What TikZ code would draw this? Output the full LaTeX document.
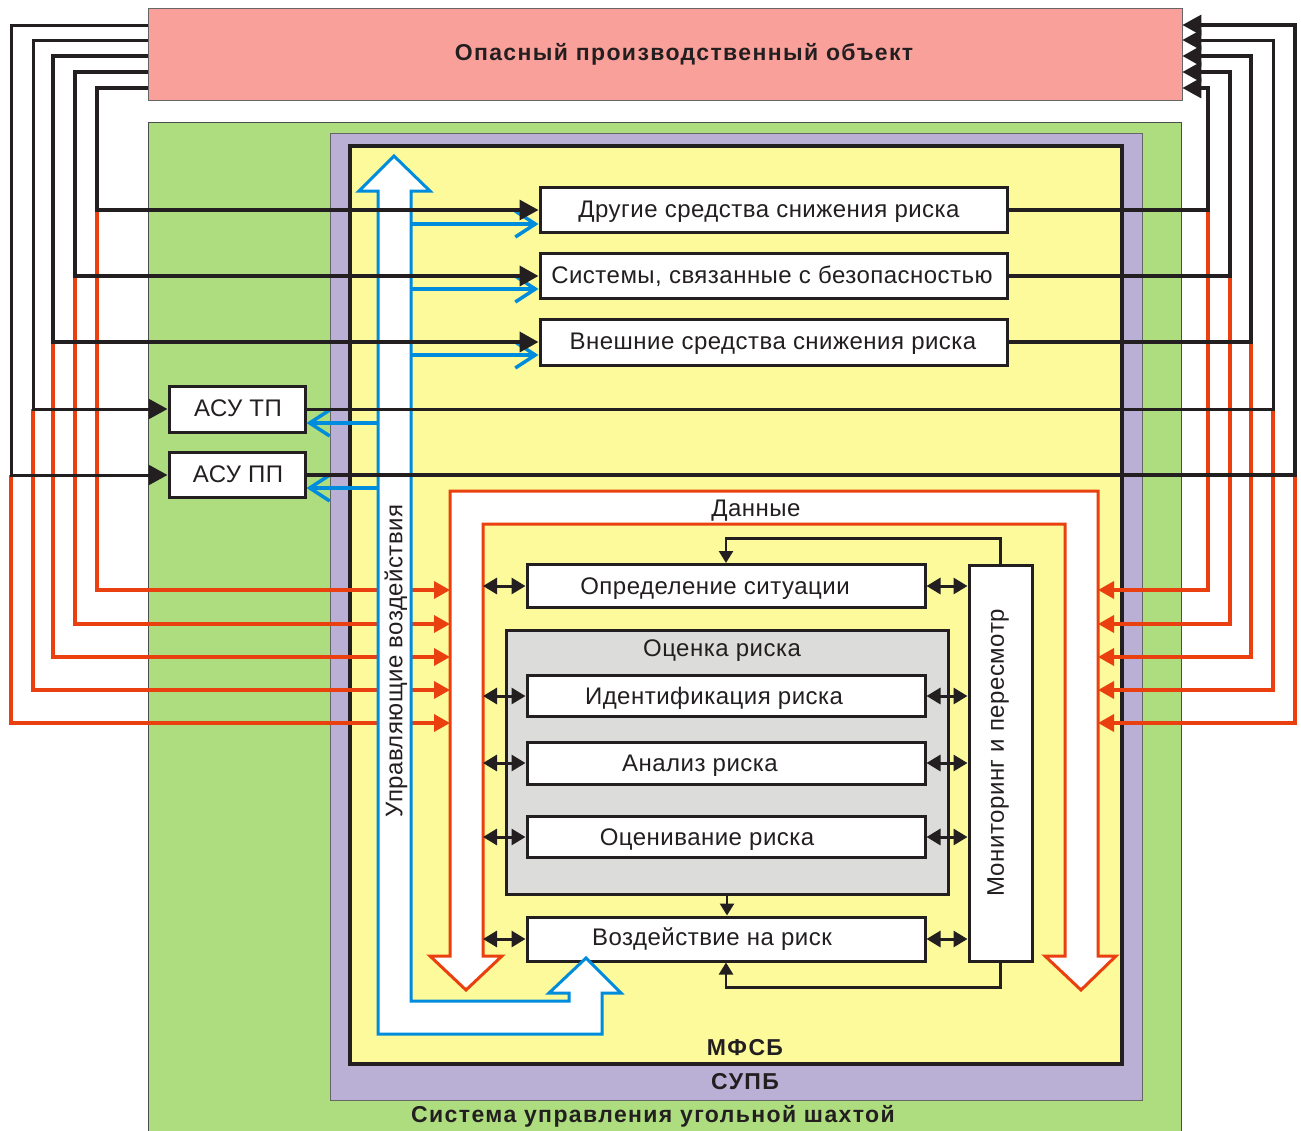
\documentclass[tikz,border=0pt]{standalone}
\usepackage{fontspec}
\setmainfont{Liberation Sans}[LetterSpace=2]
\newfontfamily\headfont{Liberation Sans}[LetterSpace=6]
\usetikzlibrary{arrows.meta}

\definecolor{pinkfill}{RGB}{249,160,155}
\definecolor{greenfill}{RGB}{174,221,128}
\definecolor{purplefill}{RGB}{186,176,214}
\definecolor{yellowfill}{RGB}{252,250,155}
\definecolor{grayfill}{RGB}{220,220,218}
\definecolor{ink}{RGB}{35,31,32}
\definecolor{redline}{RGB}{234,64,16}
\definecolor{blueline}{RGB}{0,140,220}

\tikzset{
  txt/.style={font=\fontsize{24}{28}\selectfont, text=ink, anchor=base, inner sep=0pt},
  headtxt/.style={font=\headfont\bfseries\fontsize{23}{27}\selectfont, text=ink, anchor=base, inner sep=0pt},
  box/.style={draw=ink, line width=3pt, fill=white, inner sep=0pt},
  blk/.style={draw=ink, line width=3.2pt, line join=miter},
  blkarrow/.style={blk, -{Triangle[length=19pt,width=20pt]}},
  redl/.style={draw=redline, line width=3.5pt, line join=miter, -{Triangle[length=16pt,width=17pt]}},
  bluel/.style={draw=blueline, line width=3.5pt, -{Straight Barb[length=20pt,width=26pt]}},
  dbl/.style={draw=ink, line width=3pt, {Triangle[length=14pt,width=16pt]}-{Triangle[length=14pt,width=16pt]}},
  fb/.style={draw=ink, line width=2.5pt, -{Triangle[length=12pt,width=14pt]}},
  bigarrow/.style={fill=white, line width=3pt, line join=miter},
}

\begin{document}
\begin{tikzpicture}[x=1pt,y=-1pt]
\useasboundingbox[fill=white] (0,0) rectangle (1301,1130);

% containers
\node[draw=black!60, line width=0.8pt, fill=pinkfill, minimum width=1034pt, minimum height=92pt, inner sep=0pt] (hazard) at (665,54) {};
\node[headtxt] (hazardt) at (684,60) {Опасный производственный объект};
\fill[greenfill, draw=black!70, line width=0.8pt] (148,122) rectangle (1181,1145);
\fill[purplefill, draw=black!60, line width=0.8pt] (330,133) rectangle (1142,1100);
\fill[yellowfill, draw=ink, line width=4pt] (350,146) rectangle (1122,1064);
\node[headtxt] (mfsb) at (745,1055) {МФСБ};
\node[headtxt] (supb) at (745,1089) {СУПБ};
\node[headtxt] (shaft-sys) at (653,1122) {Система управления угольной шахтой};

% data flow (U-shaped double arrow)
\coordinate (dL) at (450,0);
\coordinate (dR) at (1098,0);
\coordinate (dIn) at (483,0);
\draw[bigarrow, draw=redline] (466,990) -- (430,956) -- (450,956) -- (450,491) -- (1098,491)
  -- (1098,956) -- (1116,956) -- (1081,990) -- (1045,956) -- (1065,956) -- (1065,524)
  -- (483,524) -- (483,956) -- (502,956) -- cycle;
\node[txt] (datat) at (756,516) {Данные};

% risk management process
\node[draw=ink, line width=3pt, fill=grayfill, minimum width=442pt, minimum height=264pt, inner sep=0pt] (ocen) at (727,762) {};
\node[txt] (ocent) at (722,656) {Оценка риска};
\node[box, minimum width=398pt, minimum height=43pt] (opr) at (726,586) {};
\node[box, minimum width=398pt, minimum height=41pt] (ident) at (726,696) {};
\node[box, minimum width=398pt, minimum height=42pt] (anal) at (726,763) {};
\node[box, minimum width=398pt, minimum height=41pt] (ocv) at (726,837) {};
\node[box, minimum width=398pt, minimum height=44pt] (vozd) at (726,939) {};
\node[box, minimum width=63pt, minimum height=396pt] (mon) at (1000.5,763) {};
\node[txt] (oprt) at (715,594) {Определение ситуации};
\node[txt] (identt) at (714,704) {Идентификация риска};
\node[txt] (analt) at (700,771) {Анализ риска};
\node[txt] (ocvt) at (707,845) {Оценивание риска};
\node[txt] (vozdt) at (712,945) {Воздействие на риск};
\node[txt, anchor=center, rotate=90] (mont) at (998,753) {Мониторинг и пересмотр};

\foreach \n in {opr,ident,anal,ocv,vozd}{
  \draw[dbl] (dIn |- \n.west) -- (\n.west);
  \draw[dbl] (\n.east) -- (mon.west |- \n.east);
}
\draw[fb] (mon.north) -- ++(0,-25) -| (opr.north);
\draw[fb] (mon.south) -- ++(0,25) -| (vozd.south);
\draw[fb] (ocen.south) -- (ocen.south |- vozd.north);

% top-level boxes
\node[box, minimum width=467pt, minimum height=45pt] (drug) at (773.5,210) {};
\node[box, minimum width=467pt, minimum height=45pt] (sys) at (773.5,276) {};
\node[box, minimum width=467pt, minimum height=46pt] (ext) at (773.5,342) {};
\node[box, minimum width=136pt, minimum height=46pt] (asutp) at (237,409) {};
\node[box, minimum width=136pt, minimum height=45pt] (asupp) at (237,475) {};
\node[txt] (drugt) at (769,217) {Другие средства снижения риска};
\node[txt] (syst) at (772,283) {Системы, связанные с безопасностью};
\node[txt] (extt) at (773,349) {Внешние средства снижения риска};
\node[txt] (asutpt) at (238,416) {АСУ ТП};
\node[txt] (asuppt) at (238,482) {АСУ ПП};

% data feeds into the data flow
\foreach \x/\yb/\yr in {97/210/590, 75/276/624, 53/342/657, 33/409/690, 11/475/723}{
  \draw[redl] (\x,\yb) -- (\x,\yr) -- (dL |- 0,\yr);
}
\foreach \x/\yb/\yr in {1208/210/590, 1230/276/624, 1251/342/657, 1273/409/690, 1295/475/723}{
  \draw[redl] (\x,\yb) -- (\x,\yr) -- (dR |- 0,\yr);
}

% control actions
\coordinate (shL) at (378,0);
\coordinate (shR) at (411,0);
\draw[bigarrow, draw=blueline] (394,156) -- (430,191) -- (411,191) -- (411,1001) -- (569,1001)
  -- (569,993) -- (549,993) -- (586,958) -- (621,993) -- (602,993) -- (602,1034)
  -- (378,1034) -- (378,191) -- (359,191) -- cycle;
\node[txt, anchor=center, rotate=90] (ctrlt) at (396,661) {Управляющие воздействия};
\draw[bluel] (shR |- 0,224) -- (drug.west |- 0,224);
\draw[bluel] (shR |- 0,289) -- (sys.west |- 0,289);
\draw[bluel] (shR |- 0,355) -- (ext.west |- 0,355);
\draw[bluel] (shL |- 0,423) -- (asutp.east |- 0,423);
\draw[bluel] (shL |- 0,488) -- (asupp.east |- 0,488);

% links with the hazardous object
\foreach \x/\yt/\yb/\t/\w in {97/88/210/drug/3.2, 75/72/276/sys/4, 53/56/342/ext/4, 33/40/409/asutp/3, 11/25/475/asupp/3}{
  \draw[blkarrow, line width=\w pt] (hazard.west |- 0,\yt) -- (\x,\yt) -- (\x,\yb) -- (\t.west);
}
\foreach \x/\yt/\yb/\t/\w in {1208/88/210/drug/3.2, 1230/72/276/sys/3.2, 1251/56/342/ext/4, 1273/40/409/asutp/3, 1295/25/475/asupp/3.2}{
  \draw[blkarrow, line width=\w pt] (\t.east) -- (\x,\yb) -- (\x,\yt) -- (hazard.east |- 0,\yt);
}
\end{tikzpicture}
\end{document}
